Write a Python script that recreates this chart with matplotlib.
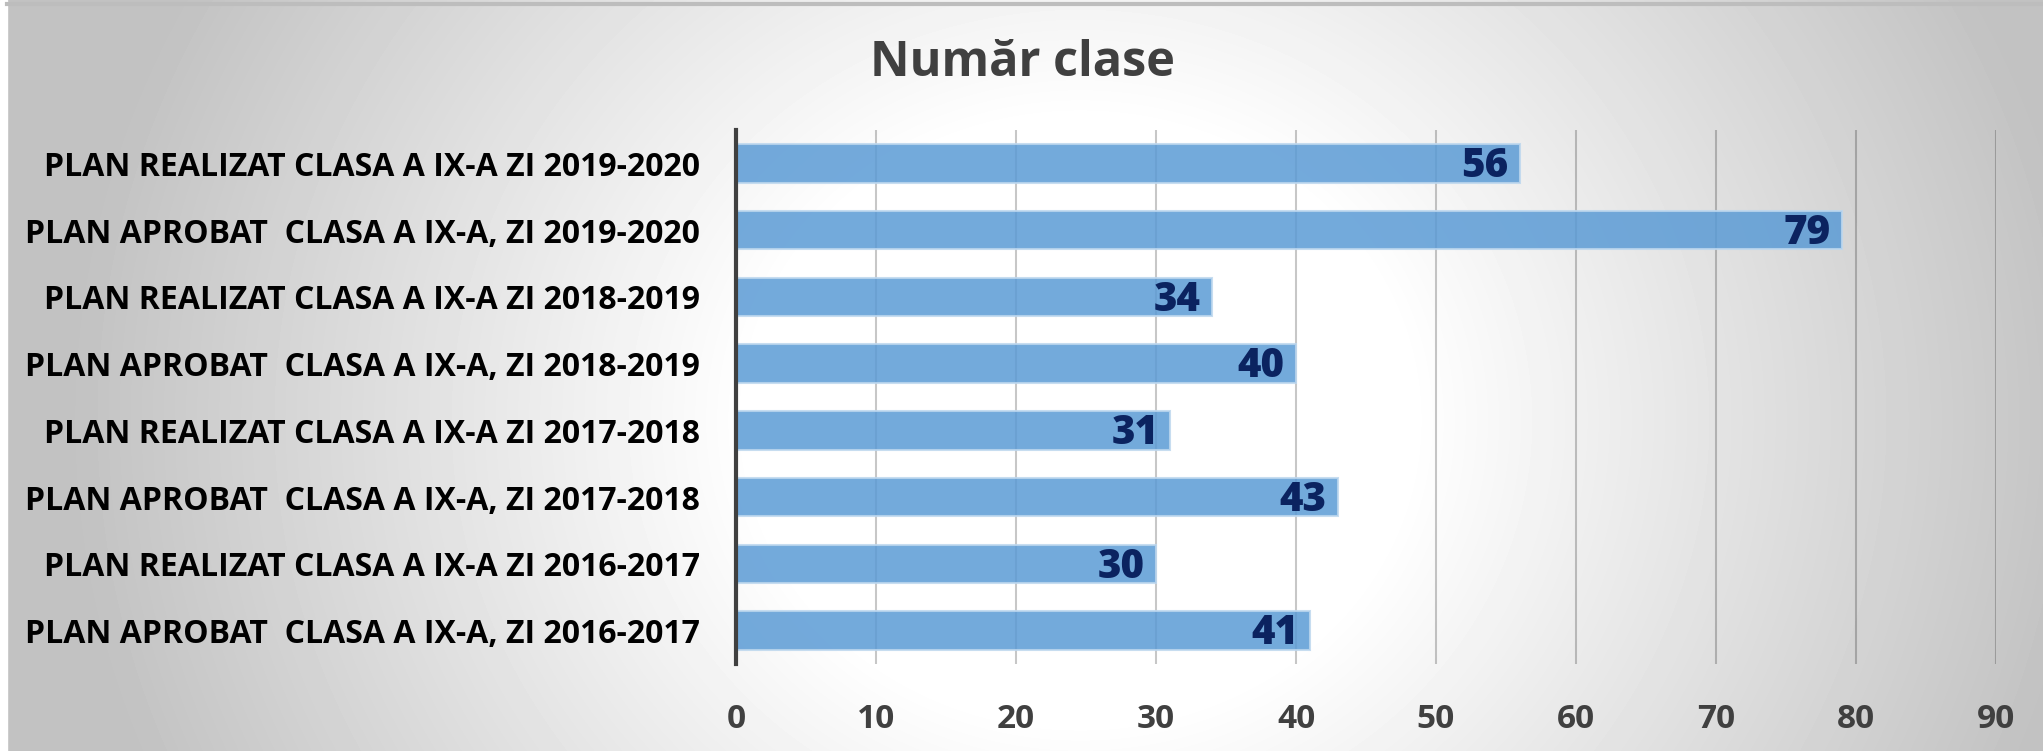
import matplotlib
matplotlib.use('agg')
import matplotlib.pyplot as plt
from matplotlib import font_manager
from matplotlib.lines import Line2D
import numpy as np

W, H, DPI = 2043, 751, 100

categories = [
    'PLAN REALIZAT CLASA A IX-A ZI 2019-2020',
    'PLAN APROBAT  CLASA A IX-A, ZI 2019-2020',
    'PLAN REALIZAT CLASA A IX-A ZI 2018-2019',
    'PLAN APROBAT  CLASA A IX-A, ZI 2018-2019',
    'PLAN REALIZAT CLASA A IX-A ZI 2017-2018',
    'PLAN APROBAT  CLASA A IX-A, ZI 2017-2018',
    'PLAN REALIZAT CLASA A IX-A ZI 2016-2017',
    'PLAN APROBAT  CLASA A IX-A, ZI 2016-2017',
]
values = [56, 79, 34, 40, 31, 43, 30, 41]
x_ticks = [0, 10, 20, 30, 40, 50, 60, 70, 80, 90]
title = 'Număr clase'

# pick a narrow font if there is one (Calibri look-alike)
installed = {f.name for f in font_manager.fontManager.ttflist}
font = 'DejaVu Sans'
for name in ['Liberation Sans Narrow', 'Open Sans', 'Liberation Sans']:
    if name in installed:
        font = name
        break
plt.rcParams['font.family'] = [font, 'DejaVu Sans']

fig = plt.figure(figsize=(W / DPI, H / DPI), dpi=DPI)

# radial grey-white background
bg = fig.add_axes([0, 0, 1, 1], zorder=-10)
yy, xx = np.mgrid[0:H, 0:W]
r = np.hypot(xx - 1080, (yy - 420) * 1.1)
t = np.clip((r - 330) / 680, 0, 1)
shade = 1.0 - t * (1.0 - 0.76)
bg.imshow(shade, cmap='gray', vmin=0, vmax=1, aspect='auto',
          extent=[0, W, H, 0], interpolation='bilinear')
bg.set_xlim(0, W)
bg.set_ylim(H, 0)
bg.axvspan(0, 7, color='white')
bg.set_axis_off()

# top border
fig.add_artist(Line2D([7 / W, 1], [1 - 4 / H, 1 - 4 / H], color='#bdbdbd',
                      linewidth=3, transform=fig.transFigure))

ax = fig.add_axes([736 / W, 1 - 664 / H, (1996 - 736) / W, (664 - 130) / H])
ax.patch.set_alpha(0)

y = np.arange(len(categories))
ax.barh(y, values, height=0.58, color='#5B9BD5', alpha=0.85,
        edgecolor='#BDD7EE', linewidth=1.5, zorder=3)

for yi, v in zip(y, values):
    ax.text(v - 0.8, yi + 0.05, str(v), ha='right', va='center', fontsize=29,
            fontweight='heavy', color='#0b2360', zorder=4)

ax.set_xlim(0, 90)
ax.set_ylim(len(categories) - 0.5, -0.5)
ax.set_xticks(x_ticks)
ax.set_yticks(y)
ax.set_yticklabels(categories, fontsize=23, fontweight='bold', color='black')
ax.tick_params(axis='y', length=0, pad=26)
ax.tick_params(axis='x', length=0, pad=28, labelsize=24, labelcolor='#404040')
for lab in ax.get_xticklabels():
    lab.set_fontweight('bold')

ax.grid(axis='x', color='black', alpha=0.22, linewidth=1.5, zorder=1)
ax.set_axisbelow(True)
for side in ['top', 'right', 'bottom']:
    ax.spines[side].set_visible(False)
ax.spines['left'].set_color('#404040')
ax.spines['left'].set_linewidth(3)
ax.spines['left'].set_zorder(5)

fig.text(1023 / W, 1 - 63 / H, title, ha='center', va='center', fontsize=35,
         fontweight='bold', color='#404040')

fig.savefig('out.png', dpi=DPI)
plt.close(fig)
